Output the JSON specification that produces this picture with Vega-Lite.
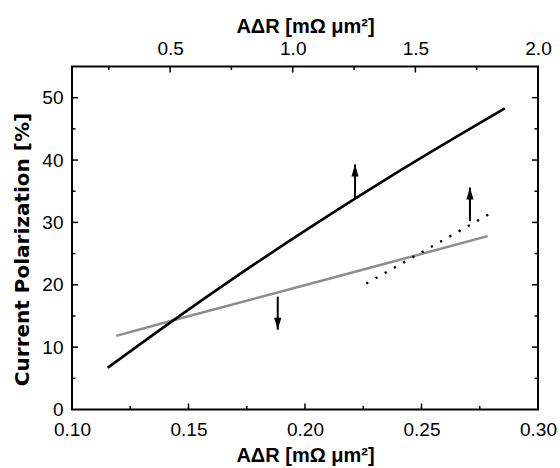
{
  "$schema": "https://vega.github.io/schema/vega-lite/v6.json",
  "autosize": "none",
  "width": 466,
  "height": 343,
  "padding": {"left": 72, "top": 66.5, "right": 22, "bottom": 58.5},
  "background": "white",
  "config": {
    "view": {"stroke": "black", "strokeWidth": 2},
    "font": "Liberation Sans",
    "axis": {
      "domain": false,
      "grid": false,
      "ticks": false,
      "labelColor": "black",
      "labelFont": "Liberation Sans",
      "labelFontSize": 19,
      "titleFont": "Liberation Sans",
      "titleFontSize": 20,
      "titleFontWeight": "bold",
      "titleColor": "black",
      "labelFlush": false,
      "labelOverlap": false
    }
  },
  "datasets": {
    "gray": [
      {"x": 0.119, "y": 11.8},
      {"x": 0.1435, "y": 14.3},
      {"x": 0.2107, "y": 21.0},
      {"x": 0.2784, "y": 27.8}
    ],
    "grayArrow": [
      {"x": 0.1883, "y": 12.8, "y2": 18.1}
    ],
    "black": [
      {"x": 0.2455, "y": 6.7},
      {"x": 0.513, "y": 14.3},
      {"x": 0.754, "y": 20.9},
      {"x": 1.254, "y": 33.8},
      {"x": 1.437, "y": 38.3},
      {"x": 1.865, "y": 48.3}
    ],
    "dotted": [
      {"x": 1.3, "y": 20.2},
      {"x": 1.827, "y": 31.9}
    ],
    "topArrows": [
      {"x": 1.254, "y": 39.3, "y2": 33.8},
      {"x": 1.7225, "y": 35.6, "y2": 30.2}
    ],
    "tickXMajor": [{"x": 0.15}, {"x": 0.2}, {"x": 0.25}],
    "tickXMinor": [{"x": 0.125}, {"x": 0.175}, {"x": 0.225}, {"x": 0.275}],
    "tickYMajor": [{"y": 10}, {"y": 20}, {"y": 30}, {"y": 40}, {"y": 50}],
    "tickYMinor": [{"y": 5}, {"y": 15}, {"y": 25}, {"y": 35}, {"y": 45}],
    "tickTopMajor": [{"x": 0.5}, {"x": 1.0}, {"x": 1.5}],
    "tickTopMinor": [{"x": 0.25}, {"x": 0.75}, {"x": 1.25}, {"x": 1.75}]
  },
  "layer": [
    {
      "data": {"name": "gray"},
      "mark": {"type": "line", "color": "#8c8c8c", "strokeWidth": 2.5},
      "encoding": {
        "x": {
          "field": "x", "type": "quantitative",
          "scale": {"domain": [0.1, 0.3], "nice": false, "zero": false},
          "axis": {
            "orient": "bottom",
            "values": [0.1, 0.15, 0.2, 0.25, 0.3],
            "format": ".2f",
            "labelPadding": 11,
            "title": "AΔR [mΩ μm²]",
            "titlePadding": 6
          }
        },
        "y": {
          "field": "y", "type": "quantitative",
          "scale": {"domain": [0, 55], "nice": false},
          "axis": {
            "orient": "left",
            "values": [0, 10, 20, 30, 40, 50],
            "format": "d",
            "labelPadding": 9,
            "title": "Current Polarization [%]",
            "titleFont": "DejaVu Sans",
            "titleFontSize": 20,
            "titleY": 182.5,
            "titlePadding": 9
          }
        }
      }
    },
    {
      "data": {"name": "grayArrow"},
      "encoding": {
        "x": {
          "field": "x", "type": "quantitative",
          "scale": {"domain": [0.1, 0.3], "nice": false, "zero": false},
          "axis": {"orient": "bottom", "labels": false, "title": null}
        },
        "y": {
          "field": "y", "type": "quantitative",
          "scale": {"domain": [0, 55], "nice": false},
          "axis": {"orient": "left", "labels": false, "title": null}
        }
      },
      "layer": [
        {
          "mark": {"type": "rule", "color": "black", "strokeWidth": 2},
          "encoding": {"y2": {"field": "y2"}}
        },
        {
          "mark": {"type": "point", "filled": true, "color": "black", "opacity": 1, "shape": "M-0.3,-1L0,0L0.3,-1Z", "size": 576, "strokeWidth": 0}
        }
      ]
    },
    {
      "data": {"name": "black"},
      "mark": {"type": "line", "color": "black", "strokeWidth": 2.6, "interpolate": "monotone"},
      "encoding": {
        "x": {
          "field": "x", "type": "quantitative",
          "scale": {"domain": [0.1, 2.0], "nice": false, "zero": false},
          "axis": {
            "orient": "top",
            "values": [0.5, 1.0, 1.5, 2.0],
            "format": ".1f",
            "labelPadding": 8,
            "title": "AΔR [mΩ μm²]",
            "titlePadding": 3
          }
        },
        "y": {
          "field": "y", "type": "quantitative",
          "scale": {"domain": [0, 55], "nice": false},
          "axis": {"orient": "right", "labels": false, "title": null}
        }
      }
    },
    {
      "encoding": {
        "x": {
          "field": "x", "type": "quantitative",
          "scale": {"domain": [0.1, 2.0], "nice": false, "zero": false},
          "axis": {"orient": "top", "labels": false, "title": null}
        },
        "y": {
          "field": "y", "type": "quantitative",
          "scale": {"domain": [0, 55], "nice": false},
          "axis": {"orient": "right", "labels": false, "title": null}
        }
      },
      "layer": [
        {
          "data": {"name": "dotted"},
          "mark": {"type": "line", "color": "black", "strokeWidth": 2.4, "strokeDash": [2.2, 8.4], "strokeCap": "butt"}
        },
        {
          "data": {"name": "topArrows"},
          "mark": {"type": "rule", "color": "black", "strokeWidth": 2},
          "encoding": {"y2": {"field": "y2"}}
        },
        {
          "data": {"name": "topArrows"},
          "mark": {"type": "point", "filled": true, "color": "black", "opacity": 1, "shape": "M-0.3,1L0,0L0.3,1Z", "size": 576, "strokeWidth": 0}
        }
      ]
    },
    {
      "layer": [
        {
          "data": {"name": "tickXMajor"},
          "mark": {"type": "tick", "orient": "vertical", "color": "black", "opacity": 1, "size": 6, "thickness": 1.5, "yOffset": -3},
          "encoding": {
            "x": {"field": "x", "type": "quantitative", "scale": {"domain": [0.1, 0.3], "nice": false, "zero": false}, "axis": {"orient": "bottom", "labels": false, "title": null}},
            "y": {"datum": 0, "type": "quantitative", "scale": {"domain": [0, 55], "nice": false}, "axis": {"orient": "left", "labels": false, "title": null}}
          }
        },
        {
          "data": {"name": "tickXMinor"},
          "mark": {"type": "tick", "orient": "vertical", "color": "black", "opacity": 1, "size": 3.5, "thickness": 1.5, "yOffset": -1.75},
          "encoding": {
            "x": {"field": "x", "type": "quantitative", "scale": {"domain": [0.1, 0.3], "nice": false, "zero": false}, "axis": {"orient": "bottom", "labels": false, "title": null}},
            "y": {"datum": 0, "type": "quantitative", "scale": {"domain": [0, 55], "nice": false}, "axis": {"orient": "left", "labels": false, "title": null}}
          }
        },
        {
          "data": {"name": "tickYMajor"},
          "mark": {"type": "tick", "orient": "horizontal", "color": "black", "opacity": 1, "size": 6, "thickness": 1.5, "xOffset": 3},
          "encoding": {
            "x": {"datum": 0.1, "type": "quantitative", "scale": {"domain": [0.1, 0.3], "nice": false, "zero": false}, "axis": {"orient": "bottom", "labels": false, "title": null}},
            "y": {"field": "y", "type": "quantitative", "scale": {"domain": [0, 55], "nice": false}, "axis": {"orient": "left", "labels": false, "title": null}}
          }
        },
        {
          "data": {"name": "tickYMinor"},
          "mark": {"type": "tick", "orient": "horizontal", "color": "black", "opacity": 1, "size": 3.5, "thickness": 1.5, "xOffset": 1.75},
          "encoding": {
            "x": {"datum": 0.1, "type": "quantitative", "scale": {"domain": [0.1, 0.3], "nice": false, "zero": false}, "axis": {"orient": "bottom", "labels": false, "title": null}},
            "y": {"field": "y", "type": "quantitative", "scale": {"domain": [0, 55], "nice": false}, "axis": {"orient": "left", "labels": false, "title": null}}
          }
        },
        {
          "data": {"name": "tickYMajor"},
          "mark": {"type": "tick", "orient": "horizontal", "color": "black", "opacity": 1, "size": 6, "thickness": 1.5, "xOffset": -3},
          "encoding": {
            "x": {"datum": 0.3, "type": "quantitative", "scale": {"domain": [0.1, 0.3], "nice": false, "zero": false}, "axis": {"orient": "bottom", "labels": false, "title": null}},
            "y": {"field": "y", "type": "quantitative", "scale": {"domain": [0, 55], "nice": false}, "axis": {"orient": "left", "labels": false, "title": null}}
          }
        },
        {
          "data": {"name": "tickYMinor"},
          "mark": {"type": "tick", "orient": "horizontal", "color": "black", "opacity": 1, "size": 3.5, "thickness": 1.5, "xOffset": -1.75},
          "encoding": {
            "x": {"datum": 0.3, "type": "quantitative", "scale": {"domain": [0.1, 0.3], "nice": false, "zero": false}, "axis": {"orient": "bottom", "labels": false, "title": null}},
            "y": {"field": "y", "type": "quantitative", "scale": {"domain": [0, 55], "nice": false}, "axis": {"orient": "left", "labels": false, "title": null}}
          }
        }
      ]
    },
    {
      "layer": [
        {
          "data": {"name": "tickTopMajor"},
          "mark": {"type": "tick", "orient": "vertical", "color": "black", "opacity": 1, "size": 6, "thickness": 1.5, "yOffset": 3},
          "encoding": {
            "x": {"field": "x", "type": "quantitative", "scale": {"domain": [0.1, 2.0], "nice": false, "zero": false}, "axis": {"orient": "top", "labels": false, "title": null}},
            "y": {"datum": 55, "type": "quantitative", "scale": {"domain": [0, 55], "nice": false}, "axis": {"orient": "right", "labels": false, "title": null}}
          }
        },
        {
          "data": {"name": "tickTopMinor"},
          "mark": {"type": "tick", "orient": "vertical", "color": "black", "opacity": 1, "size": 3.5, "thickness": 1.5, "yOffset": 1.75},
          "encoding": {
            "x": {"field": "x", "type": "quantitative", "scale": {"domain": [0.1, 2.0], "nice": false, "zero": false}, "axis": {"orient": "top", "labels": false, "title": null}},
            "y": {"datum": 55, "type": "quantitative", "scale": {"domain": [0, 55], "nice": false}, "axis": {"orient": "right", "labels": false, "title": null}}
          }
        }
      ]
    }
  ],
  "resolve": {"scale": {"x": "independent"}, "axis": {"x": "independent", "y": "independent"}}
}
